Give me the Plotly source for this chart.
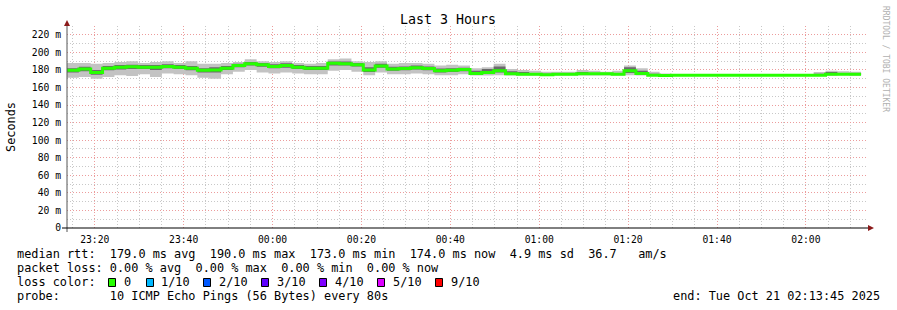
import plotly.graph_objects as go
import pandas as pd

# ---------------- data ----------------
start_time = "2025-10-20 23:13:45"
end_time = "2025-10-21 02:13:45"
step_seconds = 160

med_rtt = [179.5, 181, 177, 182, 183, 183.5, 183, 183, 184, 183, 182, 179.5, 180, 182, 185, 187, 186,
           184, 185, 183, 182, 182, 187.5, 187, 186, 180, 184.5, 181, 181.5, 182.5, 181.5, 179, 179.5, 180.5,
           176, 177, 179, 175.5, 175, 175, 174.5, 175, 175, 175.5, 175.5, 175.5, 175, 179, 176, 174, 173.5,
           174, 174, 174, 174, 174, 174, 174, 174, 174, 174, 174, 174, 174, 175, 175, 175]
smoke_min = [171, 172, 170, 172, 174, 173, 175, 172, 176, 175, 174, 171, 170, 175, 178, 180, 177,
             176, 177, 176, 175, 175, 179, 180, 178, 174, 177, 175, 175, 176, 175, 174, 174, 175,
             173.5, 173.5, 174, 173.5, 173.5, 173.5, 173.5, 173.5, 173.5, 173.5, 173.5, 173.5, 173.5, 174, 173.5, 173, 173,
             173.5, 173.5, 173.5, 173.5, 173.5, 173.5, 173.5, 173.5, 173.5, 173.5, 173.5, 173.5, 174, 174, 174, 174]
smoke_p25 = [177, 178.5, 174.5, 179.5, 180.5, 181, 181, 180, 182, 181, 179.5, 177, 177, 180, 183, 185, 183.5,
             182, 182.5, 181, 180, 180, 185, 185, 184, 177.5, 182.5, 179, 179.5, 180.5, 179.5, 177, 177.5, 178.5,
             175, 175.5, 177, 175, 175, 175, 174, 175, 175, 175, 175, 175, 175, 176.5, 175, 174, 173,
             174, 174, 174, 174, 174, 174, 174, 174, 174, 174, 174, 174, 174, 174, 175, 174]
smoke_p75 = [182, 183.5, 180, 184.5, 185.5, 186, 185.5, 185.5, 186.5, 185.5, 184.5, 182, 183, 184.5, 187, 189, 188,
             186.5, 187.5, 185.5, 184.5, 184.5, 189.5, 189.5, 188, 183, 187, 183.5, 184, 185, 184, 181.5, 182, 182.5,
             179, 181, 184, 178.5, 177.5, 176.5, 175.5, 176, 176.5, 177.5, 176.5, 176.5, 176.5, 183, 179, 175.5, 174.5,
             174, 174, 174, 174, 174, 174, 174, 174, 174, 174, 174, 174, 175.5, 177.5, 176.5, 176.5]
smoke_max = [188, 188, 187, 188, 189, 190, 188, 189, 190, 188, 190, 187, 187, 188, 189, 192, 190,
             189, 190, 188, 187, 188, 192, 193, 190, 189, 190, 187, 188, 188, 187, 185, 186, 185,
             182, 183, 187, 181, 180, 179, 178, 178, 178, 180, 179, 178, 179, 185, 182, 178, 176,
             175, 175, 175, 175, 175, 175, 175, 175, 175, 175, 175, 175, 177.5, 179, 178.5, 178]

y_tick_values = [0, 20, 40, 60, 80, 100, 120, 140, 160, 180, 200, 220]
y_tick_labels = ["0", "20 m", "40 m", "60 m", "80 m", "100 m", "120 m", "140 m", "160 m", "180 m", "200 m", "220 m"]

loss_labels = ["0", "1/10", "2/10", "3/10", "4/10", "5/10", "9/10"]
loss_colors = ["#26ff00", "#00b8ff", "#0059ff", "#5e00ff", "#7e00ff", "#dd00ff", "#ff0000"]

stats_line = "median rtt:  179.0 ms avg  190.0 ms max  173.0 ms min  174.0 ms now  4.9 ms sd  36.7   am/s"
loss_line = "packet loss: 0.00 % avg  0.00 % max  0.00 % min  0.00 % now"
probe_line = "probe:       10 ICMP Echo Pings (56 Bytes) every 80s"
end_line = "end: Tue Oct 21 02:13:45 2025"

# ---------------- figure ----------------
MONO = "DejaVu Sans Mono"
W, H = 897, 310
L, R, T, B = 67, 30, 26, 82
PW, PH = W - L - R, H - T - B


def px(x):
    return (x - L) / PW


def py(y):
    return (H - B - y) / PH


n = len(med_rtt)
times = pd.date_range(start_time, periods=n + 1, freq=f"{step_seconds}s")


def ext(a):
    return list(a) + [a[-1]]


fig = go.Figure()
fig.add_trace(go.Scatter(x=times, y=ext(smoke_min), mode="lines", line=dict(width=0, shape="hv"),
                         hoverinfo="skip"))
fig.add_trace(go.Scatter(x=times, y=ext(smoke_max), mode="lines", line=dict(width=0, shape="hv"),
                         fill="tonexty", fillcolor="#c3c3c3", hoverinfo="skip"))
fig.add_trace(go.Scatter(x=times, y=ext(smoke_p25), mode="lines", line=dict(width=0, shape="hv"),
                         hoverinfo="skip"))
fig.add_trace(go.Scatter(x=times, y=ext(smoke_p75), mode="lines", line=dict(width=0, shape="hv"),
                         fill="tonexty", fillcolor="#6a6a6a", hoverinfo="skip"))
fig.add_trace(go.Scatter(x=times, y=ext(med_rtt), mode="lines", line=dict(width=3, shape="hv", color="#26ff00"),
                         hoverinfo="skip"))

major_grid = "#ec9c9c"
minor_grid = "#c8c8c8"

fig.update_layout(
    width=W, height=H, margin=dict(l=L, r=R, t=T, b=B),
    paper_bgcolor="white", plot_bgcolor="white", showlegend=False,
    font=dict(family=MONO, color="#000"),
    xaxis=dict(type="date", range=[start_time, end_time], tickformat="%H:%M",
               tick0="2025-10-20 23:20:00", dtick=1200000,
               showgrid=True, gridcolor=major_grid, griddash="1px,2px", gridwidth=1,
               minor=dict(tick0="2025-10-20 23:20:00", dtick=300000, showgrid=True,
                          gridcolor=minor_grid, griddash="1px,2px", gridwidth=1),
               showline=False, zeroline=False, ticks="", tickfont=dict(size=9.7, family=MONO, color="#000"),
               ticklabelstandoff=4, fixedrange=True),
    yaxis=dict(range=[0, 230], tickmode="array", tickvals=y_tick_values, ticktext=y_tick_labels,
               showgrid=True, gridcolor=major_grid, griddash="1px,2px", gridwidth=1,
               minor=dict(tick0=0, dtick=10, showgrid=True, gridcolor=minor_grid, griddash="1px,2px", gridwidth=1),
               showline=False, zeroline=False, ticks="", tickfont=dict(size=9.7, family=MONO, color="#000"),
               ticklabelstandoff=5, fixedrange=True),
)

shapes = []
# axes
shapes.append(dict(type="line", xref="paper", yref="paper", x0=px(67), x1=px(67), y0=py(232), y1=py(24),
                   line=dict(color="#555555", width=1)))
shapes.append(dict(type="line", xref="paper", yref="paper", x0=px(62), x1=px(869), y0=py(228), y1=py(228),
                   line=dict(color="#000000", width=1)))
# arrows
shapes.append(dict(type="path", xref="paper", yref="paper",
                   path=f"M {px(67)},{py(20)} L {px(64)},{py(26)} L {px(70)},{py(26)} Z",
                   fillcolor="#8b1a1a", line=dict(width=0)))
shapes.append(dict(type="path", xref="paper", yref="paper",
                   path=f"M {px(874)},{py(228)} L {px(868)},{py(225)} L {px(868)},{py(231)} Z",
                   fillcolor="#8b1a1a", line=dict(width=0)))

box_left = [108, 146, 203, 261, 319, 377, 435]
label_left = [123, 160, 218, 276, 334, 392, 450]
for bx, col in zip(box_left, loss_colors):
    shapes.append(dict(type="rect", xref="paper", yref="paper", x0=px(bx + 0.5), x1=px(bx + 7.5),
                       y0=py(278.5), y1=py(286.5), fillcolor=col, line=dict(color="#000", width=1)))
fig.update_layout(shapes=shapes)

NB = "\u00a0"


def ann(text, x, y, size=11.86, xanchor="left", angle=0, color="#000"):
    return dict(text=text.replace(" ", NB), x=px(x), y=py(y), xref="paper", yref="paper",
                xanchor=xanchor, yanchor="middle", showarrow=False, textangle=angle,
                font=dict(size=size, family=MONO, color=color), borderpad=0)


annotations = [
    ann("Last 3 Hours", 448, 20, size=13.3, xanchor="center"),
    ann("Seconds", 11, 127, xanchor="center", angle=-90),
    ann("RRDTOOL / TOBI OETIKER", 886, 59, size=8, xanchor="center", angle=90, color="#b0b0b0"),
    ann(stats_line, 16, 254),
    ann(loss_line, 16, 268),
    ann("loss color:", 16, 282),
    ann(probe_line, 16, 296),
    ann(end_line, 881, 296, xanchor="right"),
]
for lx, lab in zip(label_left, loss_labels):
    annotations.append(ann(lab, lx, 282))
fig.update_layout(annotations=annotations)

fig.write_html("out.html")
